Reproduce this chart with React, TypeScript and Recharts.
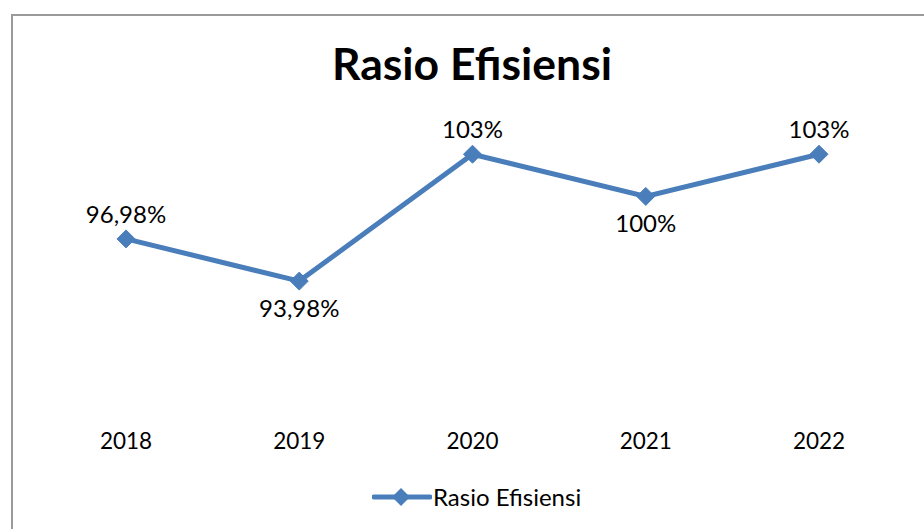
import React from 'react';
import { LineChart, Line, XAxis, YAxis, LabelList } from 'recharts';

const years = ['2018', '2019', '2020', '2021', '2022'];
const ratio = [96.98, 93.98, 103, 100, 103];
const seriesName = 'Rasio Efisiensi';
const chartTitle = 'Rasio Efisiensi';

const data = years.map((y, i) => ({ year: y, value: ratio[i] }));

const BLUE = '#4A7EBB';
const FONT = 'Lato, "Open Sans", sans-serif';

const fmt = (v: number) => String(v).replace('.', ',') + '%';

const Diamond = (props: any) => {
  const { cx, cy } = props;
  if (cx == null || cy == null) return null;
  const r = 9;
  return (
    <path
      d={`M${cx},${cy - r} L${cx + r},${cy} L${cx},${cy + r} L${cx - r},${cy} Z`}
      fill={BLUE}
      stroke={BLUE}
      strokeWidth={1}
    />
  );
};

const ValueLabel = (props: any) => {
  const { x, y, value, index } = props;
  const below = index === 1 || index === 3;
  return (
    <text
      x={x}
      y={below ? y + 36 : y - 16}
      textAnchor="middle"
      fontFamily={FONT}
      fontSize={24}
      fill="#000"
    >
      {fmt(value)}
    </text>
  );
};

const Tick = (props: any) => {
  const { x, y, payload } = props;
  return (
    <text x={x} y={y + 27.5} textAnchor="middle" fontFamily={FONT} fontSize={22.5} fill="#000">
      {payload.value}
    </text>
  );
};

export default function App() {
  return (
    <div style={{ position: 'absolute', left: 0, top: 0, width: 924, height: 529, overflow: 'hidden', background: '#fff' }}>
      <div
        style={{
          position: 'absolute',
          left: 11,
          top: 14,
          width: 913,
          height: 515,
          borderLeft: '2px solid #9a9a9a',
          borderTop: '2px solid #9a9a9a',
          boxSizing: 'border-box',
        }}
      />
      <svg width={924} height={100} style={{ position: 'absolute', left: 0, top: 0 }}>
        <text x={472} y={79.5} textAnchor="middle" fontFamily={FONT} fontWeight={700} fontSize={44.5} fill="#000">
          {chartTitle}
        </text>
      </svg>
      <div style={{ position: 'absolute', left: 0, top: 0 }}>
        <LineChart width={924} height={529} data={data} margin={{ top: 112, right: 18, bottom: 77.5, left: 39 }}>
          <XAxis
            dataKey="year"
            axisLine={false}
            tickLine={false}
            tickSize={0}
            tickMargin={0}
            height={30}
            padding={{ left: 87, right: 87 }}
            tick={<Tick />}
            interval={0}
          />
          <YAxis hide domain={[84, 106]} allowDataOverflow />
          <Line
            dataKey="value"
            name={seriesName}
            stroke={BLUE}
            strokeWidth={5}
            dot={<Diamond />}
            activeDot={false}
            isAnimationActive={false}
          >
            <LabelList dataKey="value" content={<ValueLabel />} />
          </Line>
        </LineChart>
      </div>
      <div
        style={{
          position: 'absolute',
          left: 372,
          top: 484,
          display: 'flex',
          alignItems: 'center',
          height: 26,
        }}
      >
        <svg width={60} height={26} style={{ display: 'block' }}>
          <line x1={2} y1={13} x2={58} y2={13} stroke={BLUE} strokeWidth={5} strokeLinecap="round" />
          <path d="M29,4 L38,13 L29,22 L20,13 Z" fill={BLUE} />
        </svg>
        <span style={{ fontFamily: FONT, fontSize: 24, color: '#000', marginLeft: 1, lineHeight: '26px' }}>{seriesName}</span>
      </div>
    </div>
  );
}
